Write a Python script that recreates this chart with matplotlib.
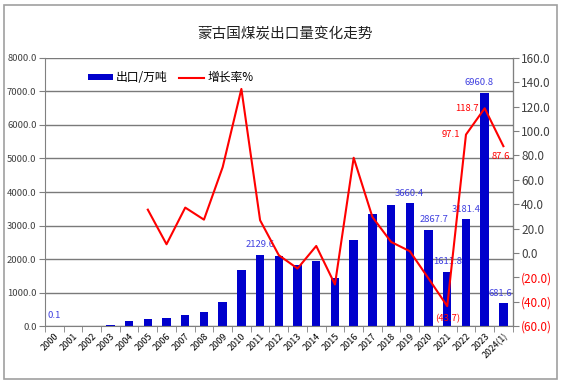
import matplotlib.pyplot as plt
from matplotlib.patches import Rectangle
from matplotlib.ticker import FuncFormatter

plt.rcParams['font.family'] = ['Noto Sans CJK SC', 'DejaVu Sans']

years = ['2000', '2001', '2002', '2003', '2004', '2005', '2006', '2007', '2008',
         '2009', '2010', '2011', '2012', '2013', '2014', '2015', '2016', '2017',
         '2018', '2019', '2020', '2021', '2022', '2023', '2024(1)']
# 出口/万吨
exports = [0.1, 0, 0, 45, 160, 210, 240, 320, 420, 705, 1670, 2129.6, 2090,
           1830, 1950, 1430, 2570, 3340, 3620, 3660.4, 2867.7, 1611.8, 3181.4,
           6960.8, 681.6]
# 增长率% (None = no data)
growth = [None, None, None, None, None, 35.5, 7.1, 37.2, 27.3, 70.4, 134.6,
          26.8, -1.9, -12.8, 5.7, -25.9, 78.1, 29.5, 9.0, 1.4, -21.0, -43.7,
          97.1, 118.7, 87.6]

bar_labels = [0, 11, 19, 20, 21, 22, 23, 24]
line_labels = [21, 22, 23, 24]

blue = '#0000cc'
lblue = '#4040e0'
red = '#ff0000'

fig = plt.figure(figsize=(5.61, 3.84), dpi=100)
fig.patches.append(Rectangle((0.007, 0.013), 0.986, 0.974, transform=fig.transFigure,
                             fill=False, edgecolor='#a0a0a0', linewidth=1.2))

ax = fig.add_axes([0.080, 0.151, 0.834, 0.698])
x = list(range(len(years)))
ax.bar(x, exports, width=0.45, color=blue, label='出口/万吨', zorder=2)
ax.set_xlim(-0.5, len(years) - 0.5)
ax.set_ylim(0, 8000)
ax.set_yticks(range(0, 8001, 1000))
ax.yaxis.set_major_formatter(FuncFormatter(lambda v, p: f'{v:.1f}'))
ax.grid(axis='y', color='#7a7a7a', linewidth=1.0, zorder=0)
ax.set_axisbelow(True)
ax.set_xticks(x)
ax.set_xticklabels(years, rotation=45, ha='right', rotation_mode='anchor', fontsize=6.5)
ax.set_xticks([i - 0.5 for i in range(len(years) + 1)], minor=True)
ax.tick_params(axis='x', which='major', length=0, pad=4)
ax.tick_params(axis='x', which='minor', length=4, color='#808080')
ax.tick_params(axis='y', labelsize=6.8, length=4, color='#808080', labelcolor='#404040', pad=2)
ax.spines['top'].set_visible(False)
for s in ['left', 'bottom']:
    ax.spines[s].set_color('#808080')

for i in bar_labels:
    dx = 0
    if years[i] == '2020':
        dx = 0.3
    if years[i] == '2023':
        dx = -0.3
    if years[i] == '2024(1)':
        dx = -0.15
    ax.annotate(f'{exports[i]:.1f}', (x[i] + dx, exports[i]), xytext=(0, 4),
                textcoords='offset points', ha='center', va='bottom',
                fontsize=6.8, color=lblue, zorder=5)

ax2 = ax.twinx()
gx = [i for i in x if growth[i] is not None]
gy = [growth[i] for i in gx]
ax2.plot(gx, gy, color=red, linewidth=1.5, label='增长率%', zorder=3)
ax2.set_ylim(-60, 160)
ax2.set_yticks(range(-60, 161, 20))
ax2.yaxis.set_major_formatter(FuncFormatter(
    lambda v, p: f'({abs(v):.1f})' if v < 0 else f'{v:.1f}'))
ax2.tick_params(axis='y', labelsize=8.5, length=4, color='#808080', pad=2)
for t, v in zip(ax2.get_yticklabels(), ax2.get_yticks()):
    t.set_color(red if v < 0 else '#404040')
ax2.spines['top'].set_visible(False)
ax2.spines['right'].set_color('#808080')
ax2.spines['left'].set_visible(False)
ax2.spines['bottom'].set_visible(False)

offsets = {21: (0, -6, 'center', 'top'), 22: (-4, 0, 'right', 'center'),
           23: (-4, 0, 'right', 'center'), 24: (-2, -4, 'center', 'top')}
for i in line_labels:
    ox, oy, ha, va = offsets[i]
    v = growth[i]
    txt = f'({abs(v):.1f})' if v < 0 else f'{v:.1f}'
    ax2.annotate(txt, (x[i], v), xytext=(ox, oy), textcoords='offset points',
                 ha=ha, va=va, fontsize=6.8, color=red, zorder=5)

h1, l1 = ax.get_legend_handles_labels()
h2, l2 = ax2.get_legend_handles_labels()
ax.legend(h1 + h2, l1 + l2, loc='upper left', bbox_to_anchor=(0.07, 0.99), ncol=2,
          frameon=False, fontsize=8.5, handlelength=2.1, handleheight=0.45,
          handletextpad=0.25, columnspacing=1.0)

fig.text(0.508, 0.91, '蒙古国煤炭出口量变化走势', ha='center', va='center',
         fontsize=10.5, color='#202020')

fig.savefig('out.png', dpi=100)
